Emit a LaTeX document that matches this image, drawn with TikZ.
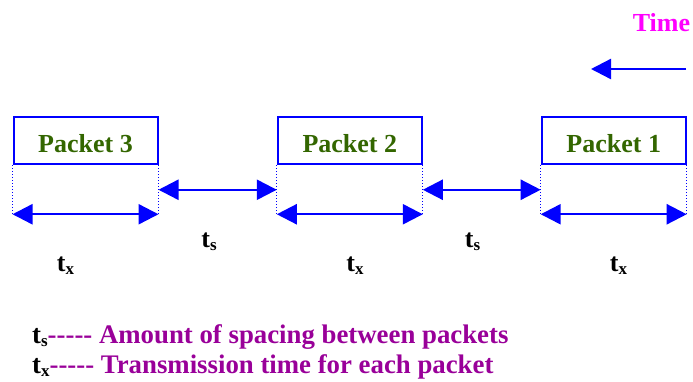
\documentclass[tikz,border=0pt]{standalone}
\usepackage{fontspec}
\setmainfont{Liberation Serif}
\usetikzlibrary{arrows.meta}
\definecolor{lineblue}{RGB}{0,0,255}
\definecolor{pktgreen}{RGB}{51,102,0}
\definecolor{timemag}{RGB}{255,0,255}
\definecolor{legpurple}{RGB}{153,0,153}
% lowered subscript for t_s / t_x labels
\newcommand\lowsub[1]{\raisebox{-3.5pt}{\fontsize{17}{17}\selectfont #1}}
% run of five separate hyphens (no dash ligatures)
\newcommand\hyphenrun{{-}{-}{-}{-}{-}}
\begin{document}
\begin{tikzpicture}[x=1pt,y=-1pt,
  packetbox/.style={draw=lineblue, line width=2pt, minimum width=144pt,
    minimum height=47.5pt, inner sep=0pt, text=pktgreen,
    font=\fontsize{26}{30}\selectfont\bfseries, text height=23pt, text depth=0pt},
  guide/.style={draw=lineblue, line width=1pt, dotted},
  span/.style={draw=lineblue, line width=2.4pt,
    {Triangle[length=20pt,width=20pt]}-{Triangle[length=20pt,width=20pt]}},
  timearrow/.style={draw=lineblue, line width=2.4pt, -{Triangle[length=20pt,width=20pt]}},
  lab/.style={inner sep=0pt, anchor=base, font=\fontsize{26}{30}\selectfont\bfseries},
  legend/.style={inner sep=0pt, anchor=base west, text=legpurple,
    font=\fontsize{26.8}{30}\selectfont\bfseries}]
\useasboundingbox (0,0) rectangle (693,381);

% time direction
\node[lab, text=timemag] (time) at (661.5,31) {Time};
\coordinate (tstart) at (686,69);
\coordinate (tend) at (591,69);
\draw[timearrow] (tstart) -- (tend);

% packets
\node[packetbox] (p3) at (85.5,140.5) {Packet 3};
\node[packetbox] (p2) at (349.8,140.5) {Packet 2};
\node[packetbox] (p1) at (613.7,140.5) {Packet 1};

% guide line ends at the level of the transmission arrows
\foreach \p in {p3,p2,p1}{
  \coordinate (\p bl) at ([yshift=-49pt]\p.south west);
  \coordinate (\p br) at ([yshift=-49pt]\p.south east);
  \draw[guide] (\p.south west) -- (\p bl);
  \draw[guide] (\p.south east) -- (\p br);
}

% transmission time of each packet
\draw[span] (p3bl) -- (p3br);
\draw[span] (p2bl) -- (p2br);
\draw[span] (p1bl) -- (p1br);

% spacing between packets
\coordinate (g1l) at ([yshift=-24.5pt]p3.south east);
\coordinate (g1r) at ([yshift=-24.5pt]p2.south west);
\coordinate (g2l) at ([yshift=-24.5pt]p2.south east);
\coordinate (g2r) at ([yshift=-24.5pt]p1.south west);
\draw[span] (g1l) -- (g1r);
\draw[span] (g2l) -- (g2r);

% labels
\node[lab] (tx3) at (65.5,271) {t\lowsub{x}};
\node[lab] (ts1) at (209,247) {t\lowsub{s}};
\node[lab] (tx2) at (355,271) {t\lowsub{x}};
\node[lab] (ts2) at (472.5,247) {t\lowsub{s}};
\node[lab] (tx1) at (618.5,271) {t\lowsub{x}};

% legend
\node[legend] (leg1) at (32,343) {\textcolor{black}{t\lowsub{s}}\hyphenrun{} Amount of spacing between packets};
\node[legend] (leg2) at (32,373) {\textcolor{black}{t\lowsub{x}}\hyphenrun{} Transmission time for each packet};
\end{tikzpicture}
\end{document}
